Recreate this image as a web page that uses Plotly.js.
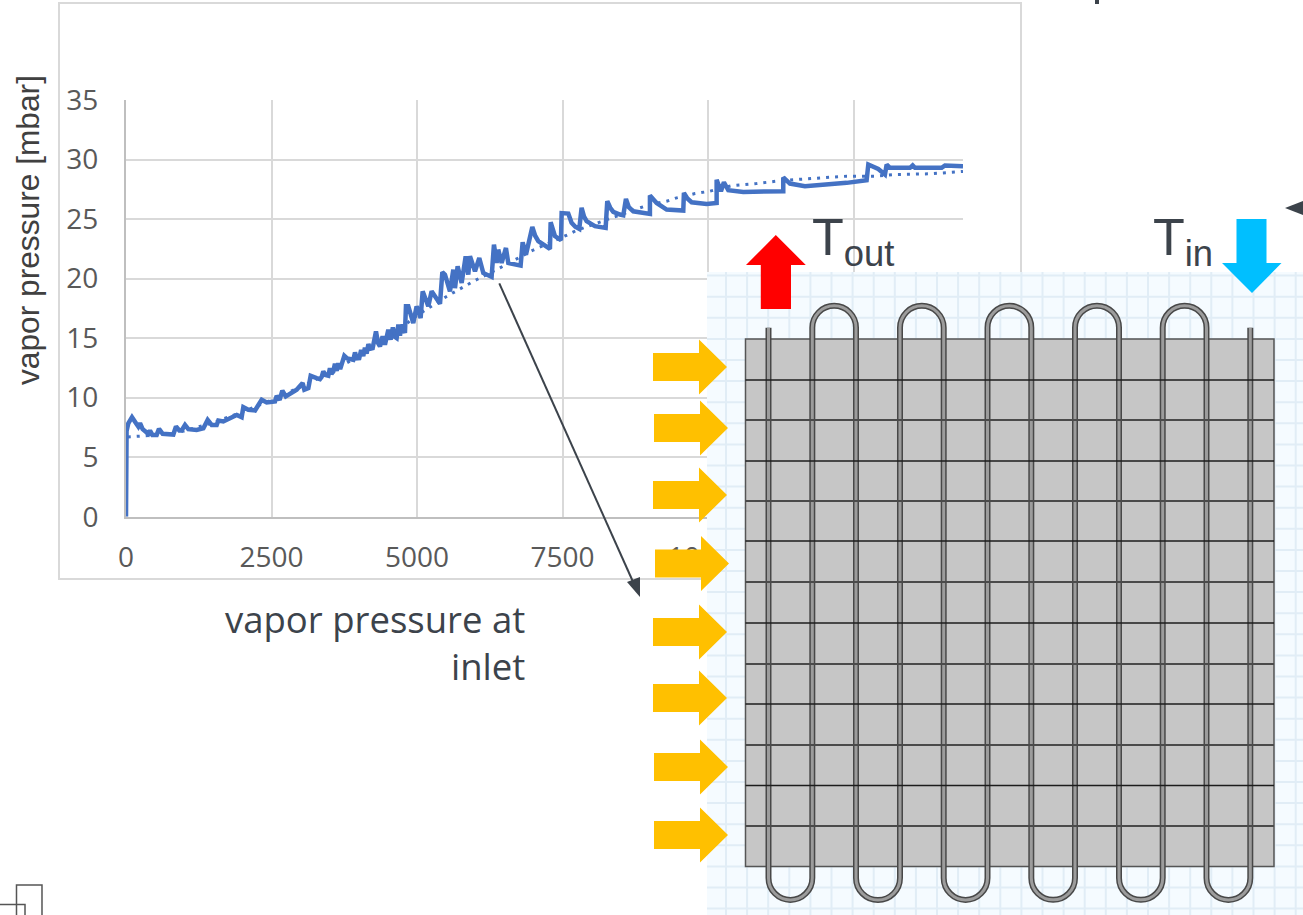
<!DOCTYPE html>
<html><head><meta charset="utf-8">
<script src="https://cdn.plot.ly/plotly-3.0.1.min.js"></script>
<style>html,body{margin:0;padding:0;background:#fff}</style></head>
<body><div id="chart" style="width:1303px;height:915px"></div>
<script>
const xTicks = [0,2500,5000,7500,10000,12500];
const yTicks = [0,5,10,15,20,25,30,35];
const yAxisTitle = 'vapor pressure [mbar]';
const xAxisTitle = 'vapor pressure at<br>inlet';

const vaporX = [0,0,10,40,103,172,212,241,286,384,412,453,527,567,630,813,859,916,956,1014,1071,1214,1329,1403,1472,1558,1586,1672,1787,1902,1987,2016,2102,2216,2331,2417,2560,2589,2640,2686,2745,2789,2932,3035,3064,3133,3173,3276,3333,
 3361,3390,3430,3476,3504,3530,3562,3590,3620,3648,3680,3705,3751,3800,3850,3905,3935,3963,4008,4040,4077,4105,4134,4165,4192,4238,4295,4330,4364,4409,4449,4507,4547,4585,4621,4650,4680,4707,4736,4793,
 4810,4850,4936,4993,5062,5097,5194,5251,5395,5435,5481,5566,5624,5652,5698,5767,5836,5881,5910,5996,6070,6139,6282,6322,6368,6396,6454,6528,6568,6780,6815,6872,6981,7030,7084,7284,7296,7370,7473,7485,7599,7656,7720,7788,7828,7870,7914,8057,8241,8269,8320,8372,8487,8544,8590,8640,8716,9002,9002,9060,9117,9289,9575,9586,9650,9718,9976,10148,10148,10222,10273,10348,10606,11293,11293,11408,11665,12382,12725,12754,12925,13040,13069,13126,13470,13516,13556,14014,14071,14381];
const vaporY = [0,6.73,7.2,7.85,8.36,7.85,7.57,7.85,7.35,6.96,7.24,6.87,6.87,7.38,6.96,6.9,7.57,7.24,7.24,7.71,7.35,7.29,7.43,8.13,7.71,7.71,8.08,8.0,8.27,8.55,8.36,9.2,8.98,8.92,9.82,9.59,9.68,10.15,9.82,10.6,10.1,10.24,10.66,11.22,10.66,10.8,11.83,11.64,11.55,
 11.73,12.2,11.9,11.84,12.48,12.0,12.2,12.85,12.25,12.9,12.4,12.76,13.52,13.3,13.25,13.18,13.8,13.3,13.32,14.0,13.5,14.2,13.69,14.5,14.1,14.16,15.57,14.6,14.3,15.15,14.45,15.7,14.87,15.9,15.1,15.0,16.13,15.2,16.13,15.43,
 17.67,17.67,16.27,17.67,16.69,18.93,17.67,18.93,17.89,20.53,20.33,18.93,20.75,19.2,21.03,19.63,21.87,20.33,21.87,20.61,21.73,20.47,20.14,22.86,21.31,22.43,21.31,22.57,21.31,21.09,23.05,22.0,24.34,23.6,23.14,22.49,24.73,23.56,23.22,25.5,25.46,24.68,24.35,24.17,25.94,25.2,24.82,24.4,24.26,26.5,25.95,25.6,25.38,25.32,26.69,26.0,25.65,25.43,26.97,26.6,26.35,25.8,25.71,27.2,26.7,26.41,26.27,26.35,28.3,27.34,28.09,27.42,27.28,27.34,28.5,27.98,27.76,28.04,28.26,29.58,29.2,28.74,29.58,29.3,29.3,29.5,29.3,29.3,29.5,29.44];

const trendX = [30,250,500,1000,1500,2000,2500,3000,3500,4000,4500,5000,5509,5738,5967,6425,6998,7599,7743,8831,9003,9289,9461,9776,10033,10406,10835,11265,11723,12382,12897,13183,13813,14381];
const trendY = [6.7,6.75,6.85,7.2,7.9,8.8,9.8,10.9,12.1,13.5,15.0,16.9,18.5,19.13,19.77,20.9,22.4,23.7,24.06,25.94,26.2,26.5,26.78,27.14,27.34,27.8,27.98,28.24,28.4,28.6,28.6,28.74,28.8,29.0];

// Canvas helpers: the overlay drawing is placed in page pixels through paper coordinates.
const W = 1303, H = 915;
const px = v => +(v / W).toFixed(5);
const py = v => +(1 - v / H).toFixed(5);
const pt = (x, y) => px(x) + ',' + py(y);
const poly = pts => 'M' + pts.map(p => pt(p[0], p[1])).join('L') + 'Z';
const shp = (path, o) => Object.assign({type:'path', xref:'paper', yref:'paper', path, line:{width:0}}, o);

const shapes = [];
// chart frame
shapes.push({type:'rect', layer:'below', xref:'paper', yref:'paper', x0:px(59), x1:px(1021), y0:py(579), y1:py(3), line:{color:'#d9d9d9', width:2}});
// grid-paper panel
shapes.push({type:'rect', xref:'paper', yref:'paper', x0:px(707), x1:px(1303), y0:py(915), y1:py(272), fillcolor:'#f5fbff', line:{width:0}});
let g = '';
for (let x = 726; x < W; x += 21.1) g += 'M' + pt(x, 272) + 'L' + pt(x, 915);
for (let y = 296.7 - 21.1; y < H; y += 21.1) g += 'M' + pt(707, y) + 'L' + pt(1303, y);
shapes.push(shp(g, {line:{color:'#e1edf6', width:2}}));
// grey core
shapes.push({type:'rect', xref:'paper', yref:'paper', x0:px(745.5), x1:px(1274), y0:py(866.5), y1:py(339), fillcolor:'#c6c6c6', line:{color:'#555555', width:1.5}});
// serpentine tube
const tubeX = [768.5,812.3,856,900,943.7,987.5,1031.3,1075,1119,1162.7,1206.5,1250.3];
const topY = 327.7, botY = 878, k = 0.5523;
let tube = '';
function bend(a,b,y,dir){
  const r=(b-a)/2, d=r*dir;
  return 'M'+pt(a,y)+'C'+pt(a,y+d*k)+' '+pt(a+r*(1-k),y+d)+' '+pt(a+r,y+d)+'C'+pt(a+r*(1+k),y+d)+' '+pt(b,y+d*k)+' '+pt(b,y);
}
for (let i=0;i<12;i++) tube += 'M'+pt(tubeX[i],topY)+'L'+pt(tubeX[i],botY);
for (let i=1;i<10;i+=2) tube += bend(tubeX[i],tubeX[i+1],topY,-1);
for (let i=0;i<11;i+=2) tube += bend(tubeX[i],tubeX[i+1],botY,1);
shapes.push(shp(tube,{line:{color:'#484848', width:6}}));
shapes.push(shp(tube,{line:{color:'#9c9c9c', width:3}}));
// horizontal fins
[380,420,461,501,541,582,623,664,704,745,785.5,826].forEach((y,i) => {
  shapes.push(shp('M'+pt(745.5,y)+'L'+pt(1274,y), {line:{color:i%2?'#4a4a4a':'#1c1c1c', width:i%2?2:1.5}}));
});
// airflow arrows
const airY = [367,428,495,563.5,632,698,767,835];
const airX = [727,728,727,729,727,727,728,728];
airY.forEach((y,i)=>{
  const t=airX[i];
  shapes.push(shp(poly([[t-74,y-14],[t-28,y-14],[t-28,y-27.5],[t,y],[t-28,y+27.5],[t-28,y+14],[t-74,y+14]]),{fillcolor:'#ffc000'}));
});
// outlet and inlet arrows
shapes.push(shp(poly([[775.8,235],[805.8,265],[791,265],[791,309],[760.8,309],[760.8,265],[746,265]]),{fillcolor:'#ff0000'}));
shapes.push(shp(poly([[1252,293],[1281.5,263],[1266.5,263],[1266.5,219],[1236.5,219],[1236.5,263],[1222,263]]),{fillcolor:'#00bfff'}));
// leader arrow
shapes.push(shp('M'+pt(499.3,283.3)+'L'+pt(634,584),{line:{color:'#3c434b', width:2}}));
shapes.push(shp(poly([[640,597],[640,577],[627,582]]),{fillcolor:'#3c434b'}));
// cropped fragments at the picture edges
shapes.push(shp(poly([[1285,208],[1303,201],[1303,215]]),{fillcolor:'#3c434b'}));
shapes.push(shp('M'+pt(1097,0)+'L'+pt(1097,4),{line:{color:'#3c434b', width:4}}));
shapes.push(shp('M'+pt(16.5,915)+'L'+pt(16.5,885)+'L'+pt(42,885)+'L'+pt(42,915)+'M'+pt(0,904.5)+'L'+pt(25,904.5)+'L'+pt(25,915),{line:{color:'#555555', width:1.5}}));

const annotations = [
 {xref:'paper',yref:'paper',x:px(28),y:py(230),xanchor:'center',yanchor:'middle',text:yAxisTitle,textangle:-90,showarrow:false,font:{family:'Liberation Sans',size:31.7,color:'#404040'}},
 {xref:'paper',yref:'paper',x:px(527),y:py(642.5),xanchor:'right',align:'right',yanchor:'middle',text:xAxisTitle,showarrow:false,font:{family:'Open Sans',size:36.5,color:'#3c434b'}},
 {xref:'paper',yref:'paper',x:px(810),y:py(241),xanchor:'left',yanchor:'middle',text:'T<sub>out</sub>',showarrow:false,font:{family:'Liberation Sans',size:52,color:'#3c434b'}},
 {xref:'paper',yref:'paper',x:px(1151),y:py(241),xanchor:'left',yanchor:'middle',text:'T<sub>in</sub>',showarrow:false,font:{family:'Liberation Sans',size:52,color:'#3c434b'}}
];

const tickFont = {family:'Open Sans', size:28, color:'#595959'};
Plotly.newPlot('chart',[
 {type:'scatter',mode:'lines',name:'vapor pressure',x:vaporX,y:vaporY,line:{color:'#4472c4',width:4.5,shape:'linear'},hoverinfo:'skip'},
 {type:'scatter',mode:'lines',name:'trend',x:trendX,y:trendY,line:{color:'#4472c4',width:3,dash:'3px,6px'},hoverinfo:'skip'}
],{
 width:W,height:H,margin:{l:0,r:0,t:0,b:0},autosize:false,showlegend:false,
 paper_bgcolor:'#ffffff',plot_bgcolor:'#ffffff',
 xaxis:{domain:[126/W,963/W],range:[0,14381],tickmode:'array',tickvals:xTicks,ticktext:xTicks.map(String),showgrid:true,gridcolor:'#d9d9d9',gridwidth:2,showline:true,linecolor:'#bfbfbf',linewidth:2,zeroline:false,ticks:'',tickfont:tickFont,ticklabelstandoff:15,automargin:false},
 yaxis:{domain:[(H-516.7)/H,(H-100)/H],range:[0,35],tickmode:'array',tickvals:yTicks,ticktext:yTicks.map(String),showgrid:true,gridcolor:'#d9d9d9',gridwidth:2,showline:true,linecolor:'#bfbfbf',linewidth:2,zeroline:false,ticks:'',tickfont:tickFont,ticklabelstandoff:20,automargin:false},
 shapes,annotations
},{displayModeBar:false,staticPlot:true});
</script></body></html>
